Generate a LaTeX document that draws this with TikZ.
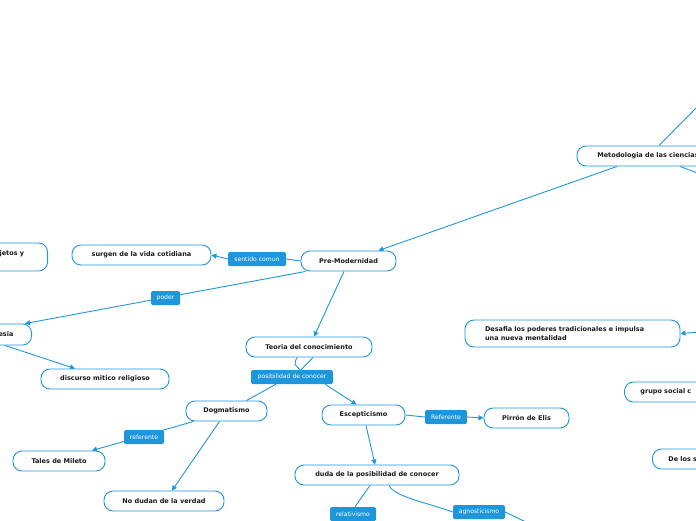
\documentclass[tikz,border=0pt]{standalone}
\usepackage{fontspec}
\setmainfont{DejaVu Sans}
\usetikzlibrary{arrows.meta,calc}
\definecolor{lb}{HTML}{1E96DC}
\definecolor{tx}{HTML}{1A1A1A}
\pgfdeclarelayer{bg}\pgfsetlayers{bg,main}
\begin{document}
\begin{tikzpicture}[x=1pt,y=-1pt,
 box/.style={draw=lb, line width=0.9pt, fill=white, rounded corners=9pt, minimum height=20pt, inner xsep=8pt, inner ysep=0pt, font=\bfseries\fontsize{6.5}{8.3}\selectfont, text=tx},
 lab/.style={fill=lb, text=white, rounded corners=1.5pt, minimum height=14pt, inner xsep=3pt, inner ysep=0pt, font=\fontsize{6.1}{7}\selectfont},
 con/.style={draw=lb, line width=0.9pt},
 arr/.style={con, -{Triangle[length=5pt,width=5pt]}}]
\useasboundingbox (0,0) rectangle (696,520);
\node[box, minimum width=142pt] (met) at (648,156) {Metodologia de las ciencias};
\node[box, minimum width=95pt] (pm) at (348.5,261) {Pre-Modernidad};
\node[box, minimum width=139pt] (sur) at (141.5,255) {surgen de la vida cotidiana};
\node[lab, minimum width=58pt] (sc) at (257,259) {sentido comun};
\node[box, minimum height=28pt, anchor=east, text width=38pt, align=left, inner xsep=10pt] (suj) at (48,257) {jetos y\\\mbox{}};
\node[lab, minimum width=29pt] (pod) at (165.5,298) {poder};
\node[box, minimum height=21pt, anchor=east, text width=23pt, align=left, inner xsep=10pt] (igl) at (32,334.5) {esia};
\node[box, minimum width=128pt] (dis) at (105,379) {discurso mitico religioso};
\node[box, minimum width=126pt] (teo) at (309,347) {Teoria del conocimiento};
\node[lab, minimum width=82pt] (pos) at (292,377) {posibilidad de conocer};
\node[box, minimum width=81pt] (dog) at (226.5,411) {Dogmatismo};
\node[box, minimum width=83pt] (esc) at (363.5,415) {Escepticismo};
\node[lab, minimum width=42pt] (ref2) at (446,417) {Referente};
\node[box, minimum width=85pt] (pir) at (526.5,418) {Pirrón de Elis};
\node[lab, minimum width=40pt] (ref1) at (144,437) {referente};
\node[box, minimum width=92pt] (tal) at (59,461) {Tales de Mileto};
\node[box, minimum width=120pt] (nod) at (164,501) {No dudan de la verdad};
\node[box, minimum width=164pt] (dud) at (377,475) {duda de la posibilidad de conocer};
\node[lab, minimum width=46pt] (rel) at (353,514) {relativismo};
\node[lab, minimum width=52pt] (agn) at (479,512) {agnosticismo};
\node[box, minimum height=27pt, text width=175pt, align=left, inner xsep=20pt] (des) at (572.5,333.5) {Desafia los poderes tradicionales e impulsa\\una nueva mentalidad};
\node[box, anchor=west, text width=100pt, align=left, inner xsep=16pt] (gru) at (624,392) {grupo social c};
\node[box, anchor=west, text width=60pt, align=left, inner xsep=16pt] (del) at (652,459) {De los s};
\begin{pgfonlayer}{bg}
\coordinate (e1) at (700,104);
\draw[con] (e1) -- ([xshift=11pt]met.north);
\coordinate (e2) at (700,174);
\draw[con] ([xshift=32pt]met.south) -- (e2);
\draw[arr] ([xshift=-31pt]met.south) -- ([xshift=30pt]pm.north);
\draw[con] (pm.west) -- (sc.east);
\draw[arr] (sc.west) -- (sur.east);
\draw[arr] ([xshift=-43pt]pm.south) -- ([xshift=-7pt]igl.north east);
\draw[arr] ([xshift=-27pt]igl.south east) -- ([xshift=-30pt]dis.north);
\draw[arr] ([xshift=-4.5pt]pm.south) -- ([xshift=5pt]teo.north);
\draw[con] ([xshift=-12pt]teo.south) .. controls (294,364) .. ([xshift=8pt]pos.north);
\draw[con] ([xshift=4pt]teo.south) -- ([xshift=9pt]pos.north);
\draw[con] ([xshift=-16pt]pos.south) -- ([xshift=20pt]dog.north);
\draw[arr] ([xshift=33pt]pos.south) -- ([xshift=-7pt]esc.north);
\draw[con] (esc.east) -- (ref2.west);
\draw[arr] (ref2.east) -- (pir.west);
\draw[arr] ([xshift=-33pt]dog.south) -- ([xshift=33pt]tal.north);
\draw[arr] ([xshift=-7pt]dog.south) -- ([xshift=8pt]nod.north);
\draw[arr] ([xshift=2.5pt]esc.south) -- ([xshift=-2pt]dud.north);
\draw[con] ([xshift=-7pt]dud.south) -- ([xshift=2pt]rel.north);
\draw[con] ([xshift=12pt]dud.south) .. controls (395,497) and (425,502) .. (agn.west);
\coordinate (e3) at (530,524);
\draw[con] (agn.east) -- (e3);
\coordinate (e4) at (700,332);
\draw[arr] (e4) -- (des.east);
\end{pgfonlayer}
\end{tikzpicture}
\end{document}
